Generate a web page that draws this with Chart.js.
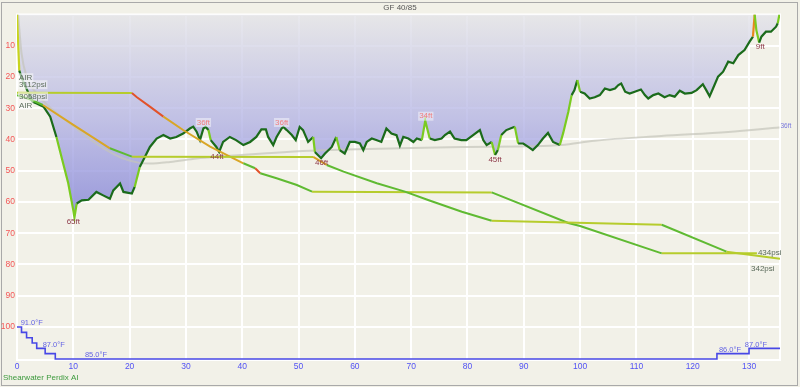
<!DOCTYPE html>
<html><head><meta charset="utf-8">
<script src="https://cdn.jsdelivr.net/npm/chart.js@4"></script>
<style>html,body{margin:0;padding:0;background:#f2f1e8;overflow:hidden}</style>
</head><body>
<canvas id="c" width="800" height="387"></canvas>
<script>
// ---- data ----
const titleText = 'GF 40/85';
const deviceText = 'Shearwater Perdix AI';
const timeTicks = [0,10,20,30,40,50,60,70,80,90,100,110,120,130];
const depthTicks = [0,10,20,30,40,50,60,70,80,90,100];

const depthTime = [0,0.4,1.0,2.0,2.8,3.5,4.7,5.9,7.0,8.2,9.1,10.0,10.2,10.6,11.5,12.7,14.1,15.3,16.5,17.1,18.3,18.9,20.4,20.9,21.8,22.7,23.6,24.8,26.0,27.2,28.3,29.5,30.7,31.3,31.9,32.5,33.1,33.5,34.0,34.4,35.4,35.9,36.6,37.8,38.9,40.2,41.4,42.5,43.4,44.2,44.6,45.5,46.1,47.0,47.3,47.9,48.8,49.5,50.2,50.8,51.7,52.6,52.9,54.0,54.7,55.9,56.7,57.3,58.2,59.1,60.0,60.9,61.5,62.1,63.0,63.8,64.7,65.6,66.5,67.4,68.0,68.6,69.5,70.4,71.0,71.9,72.5,73.3,74.2,75.4,76.0,76.9,77.7,78.9,79.8,81.0,82.2,82.8,83.4,84.3,84.9,85.4,86.0,86.9,88.4,89.0,89.9,90.8,91.6,92.5,93.4,94.3,95.2,96.4,97.0,97.9,98.5,99.0,99.5,100.0,100.8,101.7,102.6,103.5,104.4,105.3,106.2,106.8,107.3,108.0,108.8,109.7,110.8,111.5,112.1,113.0,113.9,115.0,115.9,116.8,117.7,118.6,119.8,120.7,121.8,122.4,123.0,123.6,124.5,125.4,126.3,127.2,128.1,129.2,130.1,130.7,131.0,131.3,131.8,132.2,133.0,133.9,134.8,135.1,135.4];
const depthFt = [0,18,21,25,28,28.5,29.5,32.7,39.2,47.7,54,62.7,65,60.5,59.5,59.3,56.8,57.9,59,56.3,54.1,56.8,57.3,55.2,48.8,45.6,42.4,39.7,38.6,39.7,39.2,38.1,36.5,35.9,37.5,40.2,36.5,36,37,40.2,42.4,44,40.8,39.2,40.2,41.8,40.8,39.2,36.8,36.8,39.2,41.8,39.2,36.5,36,37,38.6,40.2,36,37,40.8,39.2,44,46,44.5,42.4,39.2,43.4,44.5,40.8,40.8,41.3,43.4,40.8,39.7,40.2,40.8,36.5,38.1,38.6,42,39.2,39.7,40.8,39.7,40.2,34,39.7,40.2,39.7,38.6,37.5,39.7,40.2,40.2,38.6,37,40.2,41.8,40.8,45,43.4,38.6,37,35.9,41.3,41.3,42.4,43.4,41.8,39.7,37.9,40.8,41.8,37.9,31.2,25.8,24.2,21,24.7,25.3,26.9,26.5,25.8,23.7,24.2,23.7,22.6,22.1,24.7,25.3,24.7,24,25.8,26.9,25.8,25.3,26.5,25.8,26.3,24.4,25.3,25.1,24.2,22.3,24.2,26.2,23.7,19.9,18.3,15.1,15.6,13,11.4,8.7,7.1,0,5,9,7.1,5.5,5.5,3.9,2.8,0];

const ceilTime = [0.2,0.8,1.7,3.5,6.4,9.4,12.4,15.9,18.9,21.8,23.6,27.2,31.9,36.6,43.7,52.0,68.0,78.9,90.8,96.7,102.6,114.4,126.3,135.4];
const ceilFt =   [0,12.4,19.9,25.3,30.6,34.9,39.2,43.4,46.1,47.5,47.7,47.2,46.1,45.4,44.5,43.6,42.8,42.4,42.2,41.8,40.4,38.9,37.6,36.2];

const tankATime = [0,20.4,21.3,23.6,26.0,29.5,34.3,40.2,42.3,43.2,46.1,49.7,52.4,84.3,97.9,100.0,114.5,131.4];
const tankAPsi  = [3112,3108,3035,2879,2712,2490,2212,1935,1852,1768,1685,1573,1462,1450,940,890,434,434];
const tankBTime = [0,2.3,4.6,10.0,16.5,20.4,52.6,55.0,58.0,63.9,68.9,73.0,79.0,84.3,114.5,126.0,135.5];
const tankBPsi  = [3068,3002,2907,2574,2185,2045,2040,1907,1795,1602,1462,1323,1128,978,910,462,342];
const gasName = 'AIR';

const tempTime = [0,0.8,1.7,2.7,3.5,5.0,6.8,124.3,130.0,135.5];
const tempF    = [91,90,89,88,87,86,85,86,87,87];
const tempLabelTime = [0.3,4.2,11.7,124.3,128.9];
const tempLabelF    = [91,87,85,86,87];

const markTime = [10.0,33.1,35.5,47.0,54.1,72.6,84.9,132.0];
const markFt   = [65,36,44,36,46,34,45,9];
const markKind = ['deep','shallow','deep','shallow','deep','shallow','deep','deep'];

// ---- helpers ----
const pts = (xs, ys) => xs.map((x, i) => ({x: x, y: ys[i]}));
const FONT = '"Liberation Sans", Arial, sans-serif';

function depthSegColor(ctx) {
  const r = (ctx.p1.parsed.y - ctx.p0.parsed.y) / (ctx.p1.parsed.x - ctx.p0.parsed.x);
  if (r < -15) return '#e8861c';
  if (r > 20) return '#c8d41e';
  if (Math.abs(r) > 6.5) return '#7acb20';
  return '#1b6b1b';
}
function gasSegColor(ctx) {
  const r = (ctx.p0.parsed.y - ctx.p1.parsed.y) / (ctx.p1.parsed.x - ctx.p0.parsed.x);
  if (r > 65) return '#e2522a';
  if (r > 45) return '#d9a626';
  if (r > 20) return '#5fba32';
  return '#b6cc2c';
}
function fillGradient(context) {
  const chart = context.chart;
  const ca = chart.chartArea;
  if (!ca) return 'rgba(180,180,230,0.7)';
  const g = chart.ctx.createLinearGradient(0, ca.top, 0, ca.bottom);
  g.addColorStop(0, 'rgba(228,228,232,0.8)');
  g.addColorStop(0.3, 'rgba(178,178,228,0.76)');
  g.addColorStop(0.6, 'rgba(124,124,214,0.78)');
  g.addColorStop(1, 'rgba(100,100,206,0.8)');
  return g;
}

function drawLabel(c, text, x, y, color, align, bg, size) {
  c.font = (size || 8) + 'px ' + FONT;
  c.textAlign = align;
  c.textBaseline = 'middle';
  if (bg) {
    const w = c.measureText(text).width;
    const x0 = align === 'left' ? x : (align === 'center' ? x - w / 2 : x - w);
    c.fillStyle = bg;
    c.fillRect(x0 - 1, y - 4.5, w + 2, 9);
  }
  c.fillStyle = color;
  c.fillText(text, x, y);
}

const decor = {
  id: 'decor',
  beforeDraw(chart) {
    const c = chart.ctx;
    c.save();
    c.fillStyle = '#f2f1e8';
    c.fillRect(0, 0, chart.width, chart.height);
    c.strokeStyle = '#a9a9a9';
    c.lineWidth = 1;
    c.strokeRect(1.5, 2.5, 796, 383);
    c.restore();
  },
  beforeDatasetsDraw(chart) {
    const c = chart.ctx, ca = chart.chartArea;
    c.save();
    c.strokeStyle = '#ffffff';
    c.lineWidth = 2;
    c.strokeRect(ca.left, ca.top, ca.right - ca.left, ca.bottom - ca.top);
    c.restore();
  },
  afterDatasetsDraw(chart) {
    const c = chart.ctx;
    const xs = chart.scales.x, ys = chart.scales.y, ps = chart.scales.p, ts = chart.scales.tf;
    c.save();
    drawLabel(c, titleText, 400, 8, '#555555', 'center', null, 8);
    drawLabel(c, deviceText, 3, 378, '#3d9a3d', 'left', null, 8);
    markTime.forEach((t, i) => {
      const x = xs.getPixelForValue(t), y = ys.getPixelForValue(markFt[i]);
      if (markKind[i] === 'deep') {
        drawLabel(c, markFt[i] + 'ft', x, y + 4.5, '#8e3a4a', 'center', null);
      } else {
        drawLabel(c, markFt[i] + 'ft', x, y - 4.5, '#f07e7e', 'center', 'rgba(255,255,255,0.45)');
      }
    });
    const a0 = ps.getPixelForValue(tankAPsi[0]);
    const b0 = ps.getPixelForValue(tankBPsi[0]);
    const lx = xs.getPixelForValue(0) + 2;
    const gbg = 'rgba(250,250,250,0.55)';
    drawLabel(c, gasName, lx, a0 - 15, '#5f6f5f', 'left', gbg);
    drawLabel(c, tankAPsi[0] + 'psi', lx, a0 - 8, '#5f6f5f', 'left', gbg);
    drawLabel(c, tankBPsi[0] + 'psi', lx, b0 + 1, '#5f6f5f', 'left', gbg);
    drawLabel(c, gasName, lx, b0 + 10, '#5f6f5f', 'left', gbg);
    const aE = tankATime.length - 1, bE = tankBTime.length - 1;
    drawLabel(c, tankAPsi[aE] + 'psi', xs.getPixelForValue(tankATime[aE]) + 1, ps.getPixelForValue(tankAPsi[aE]) - 0.5, '#5a6a5a', 'left', null);
    drawLabel(c, tankBPsi[bE] + 'psi', xs.getPixelForValue(tankBTime[bE]) - 29, ps.getPixelForValue(tankBPsi[bE]) + 10, '#5a6a5a', 'left', null);
    const cE = ceilTime.length - 1;
    drawLabel(c, Math.round(ceilFt[cE]) + 'ft', xs.getPixelForValue(ceilTime[cE]) + 1, ys.getPixelForValue(ceilFt[cE]) - 1.5, '#7a7ade', 'left', null, 6.5);
    tempLabelTime.forEach((t, i) => {
      drawLabel(c, tempLabelF[i].toFixed(1) + '°F', xs.getPixelForValue(t) + 2, ts.getPixelForValue(tempLabelF[i]) - 3.8, '#6464e4', 'left', null, 7.5);
    });
    c.restore();
  }
};

new Chart(document.getElementById('c'), {
  type: 'line',
  data: {
    datasets: [
      { data: pts(depthTime, depthFt), yAxisID: 'y', borderWidth: 0, pointRadius: 0, fill: {value: 0}, backgroundColor: fillGradient, order: 10 },
      { data: pts(ceilTime, ceilFt), yAxisID: 'y', borderColor: 'rgba(196,196,186,0.7)', borderWidth: 2, pointRadius: 0, fill: false, cubicInterpolationMode: 'monotone', order: 9 },
      { data: pts(depthTime, depthFt), yAxisID: 'y', borderColor: '#1b6b1b', segment: {borderColor: depthSegColor}, borderWidth: 2.2, pointRadius: 0, fill: false, order: 8 },
      { data: pts(tempTime, tempF), yAxisID: 'tf', borderColor: '#4848e6', borderWidth: 1.6, pointRadius: 0, fill: false, stepped: true, order: 7 },
      { data: pts(tankATime, tankAPsi), yAxisID: 'p', borderColor: '#b6cc2c', segment: {borderColor: gasSegColor}, borderWidth: 2, pointRadius: 0, fill: false, order: 2 },
      { data: pts(tankBTime, tankBPsi), yAxisID: 'p', borderColor: '#b6cc2c', segment: {borderColor: gasSegColor}, borderWidth: 2, pointRadius: 0, fill: false, order: 1 }
    ]
  },
  options: {
    responsive: false,
    animation: false,
    devicePixelRatio: 1,
    layout: { padding: { top: 14.5, right: 20, bottom: 0, left: 0 } },
    plugins: { legend: {display: false}, tooltip: {enabled: false}, title: {display: false} },
    scales: {
      x: {
        type: 'linear', min: 0, max: 135.5,
        afterBuildTicks: s => { s.ticks = timeTicks.map(v => ({value: v})); },
        afterFit: s => { s.height = 27; },
        grid: { color: '#ffffff', lineWidth: 2, drawTicks: false },
        border: { display: false },
        ticks: { color: '#5252f4', font: {family: FONT, size: 8.5}, padding: 2, maxRotation: 0, autoSkip: false }
      },
      y: {
        type: 'linear', reverse: true, min: 0, max: 110.6,
        afterBuildTicks: s => { s.ticks = depthTicks.map(v => ({value: v})); },
        afterFit: s => { s.width = 17; },
        grid: { color: '#ffffff', lineWidth: 2, drawTicks: false },
        border: { display: false },
        ticks: { color: '#f45656', font: {family: FONT, size: 8.5}, padding: 2, callback: v => v === 0 ? '' : v, autoSkip: false }
      },
      p: { type: 'linear', display: false, min: -1344, max: 4415 },
      tf: { type: 'linear', display: false, min: 84.81, max: 149.7 }
    }
  },
  plugins: [decor]
});
</script>
</body></html>
